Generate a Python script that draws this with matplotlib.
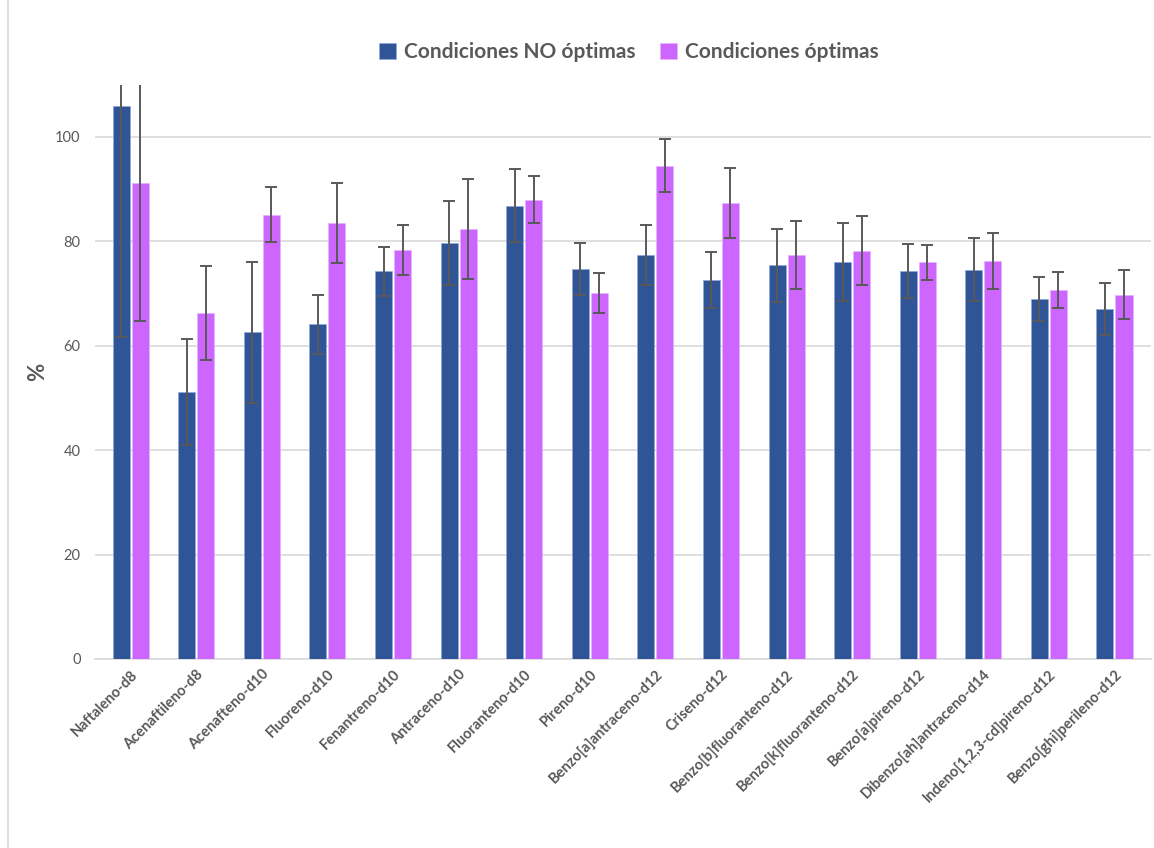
import matplotlib
matplotlib.use("Agg")
import matplotlib.pyplot as plt
from matplotlib.lines import Line2D
import numpy as np

categories = ["Naftaleno-d8", "Acenaftileno-d8", "Acenafteno-d10", "Fluoreno-d10",
              "Fenantreno-d10", "Antraceno-d10", "Fluoranteno-d10", "Pireno-d10",
              "Benzo[a]antraceno-d12", "Criseno-d12", "Benzo[b]fluoranteno-d12",
              "Benzo[k]fluoranteno-d12", "Benzo[a]pireno-d12", "Dibenzo[ah]antraceno-d14",
              "Indeno[1,2,3-cd]pireno-d12", "Benzo[ghi]perileno-d12"]
no_optimas = [105.9, 51.1, 62.6, 64.1, 74.3, 79.7, 86.8, 74.7,
              77.4, 72.6, 75.4, 76.0, 74.3, 74.6, 69.0, 67.0]
no_optimas_err = [44.2, 10.2, 13.5, 5.7, 4.7, 8.0, 7.0, 5.0,
                  5.8, 5.4, 7.0, 7.5, 5.2, 6.0, 4.2, 5.0]
optimas = [91.1, 66.3, 85.1, 83.5, 78.4, 82.3, 88.0, 70.1,
           94.5, 87.4, 77.4, 78.2, 76.0, 76.2, 70.7, 69.8]
optimas_err = [26.3, 9.0, 5.3, 7.6, 4.8, 9.6, 4.5, 3.8,
               5.1, 6.7, 6.5, 6.6, 3.4, 5.4, 3.5, 4.7]
yticks = [0, 20, 40, 60, 80, 100]

plt.rcParams['font.family'] = ['Lato', 'DejaVu Sans']
fig = plt.figure(figsize=(11.54, 8.48), dpi=100)
ax = fig.add_axes([0.082, 0.223, 0.915, 0.677])

# chart-area border visible on the left
fig.add_artist(Line2D([0.0065, 0.0065], [0, 1], transform=fig.transFigure,
                      color="#D9D9D9", linewidth=1.2))

x = np.arange(len(categories))
w = 0.26
gap = 0.03
c1 = "#2F5597"
c2 = "#CC66FF"
ekw = dict(ecolor="#595959", elinewidth=1.4, capsize=4, capthick=1.4)
ax.bar(x - w/2 - gap/2, no_optimas, w, color=c1, edgecolor="#8FAADC", linewidth=0.5,
       yerr=no_optimas_err, error_kw=ekw, label="Condiciones NO óptimas", zorder=3)
ax.bar(x + w/2 + gap/2, optimas, w, color=c2, edgecolor="#E6B3FF", linewidth=0.5,
       yerr=optimas_err, error_kw=ekw, label="Condiciones óptimas", zorder=3)

ax.set_ylim(0, 110)
ax.set_xlim(-0.55, len(categories) - 0.45)
ax.set_yticks(yticks)
ax.yaxis.grid(True, color="#D9D9D9", linewidth=1.2, zorder=0)
ax.set_axisbelow(True)
for s in ["top", "right", "left"]:
    ax.spines[s].set_visible(False)
ax.spines["bottom"].set_color("#D9D9D9")
ax.spines["bottom"].set_linewidth(1.2)
ax.tick_params(axis="y", length=0, labelsize=10.5, labelcolor="#595959", pad=10)
ax.tick_params(axis="x", length=0, pad=6)
ax.set_xticks(x)
ax.set_xticklabels(categories, rotation=45, ha="right", rotation_mode="anchor",
                   fontsize=10.5, fontweight="bold", color="#595959")
ax.set_ylabel("%", fontsize=16, fontweight="bold", color="#595959", labelpad=5)

leg = fig.legend(loc="upper center", bbox_to_anchor=(0.545, 0.972), ncol=2, frameon=False,
                 prop={"size": 15, "weight": "bold"}, handlelength=0.8, handleheight=0.8,
                 handletextpad=0.4, columnspacing=1.2)
for t in leg.get_texts():
    t.set_color("#595959")

fig.savefig("out.png", dpi=100)
